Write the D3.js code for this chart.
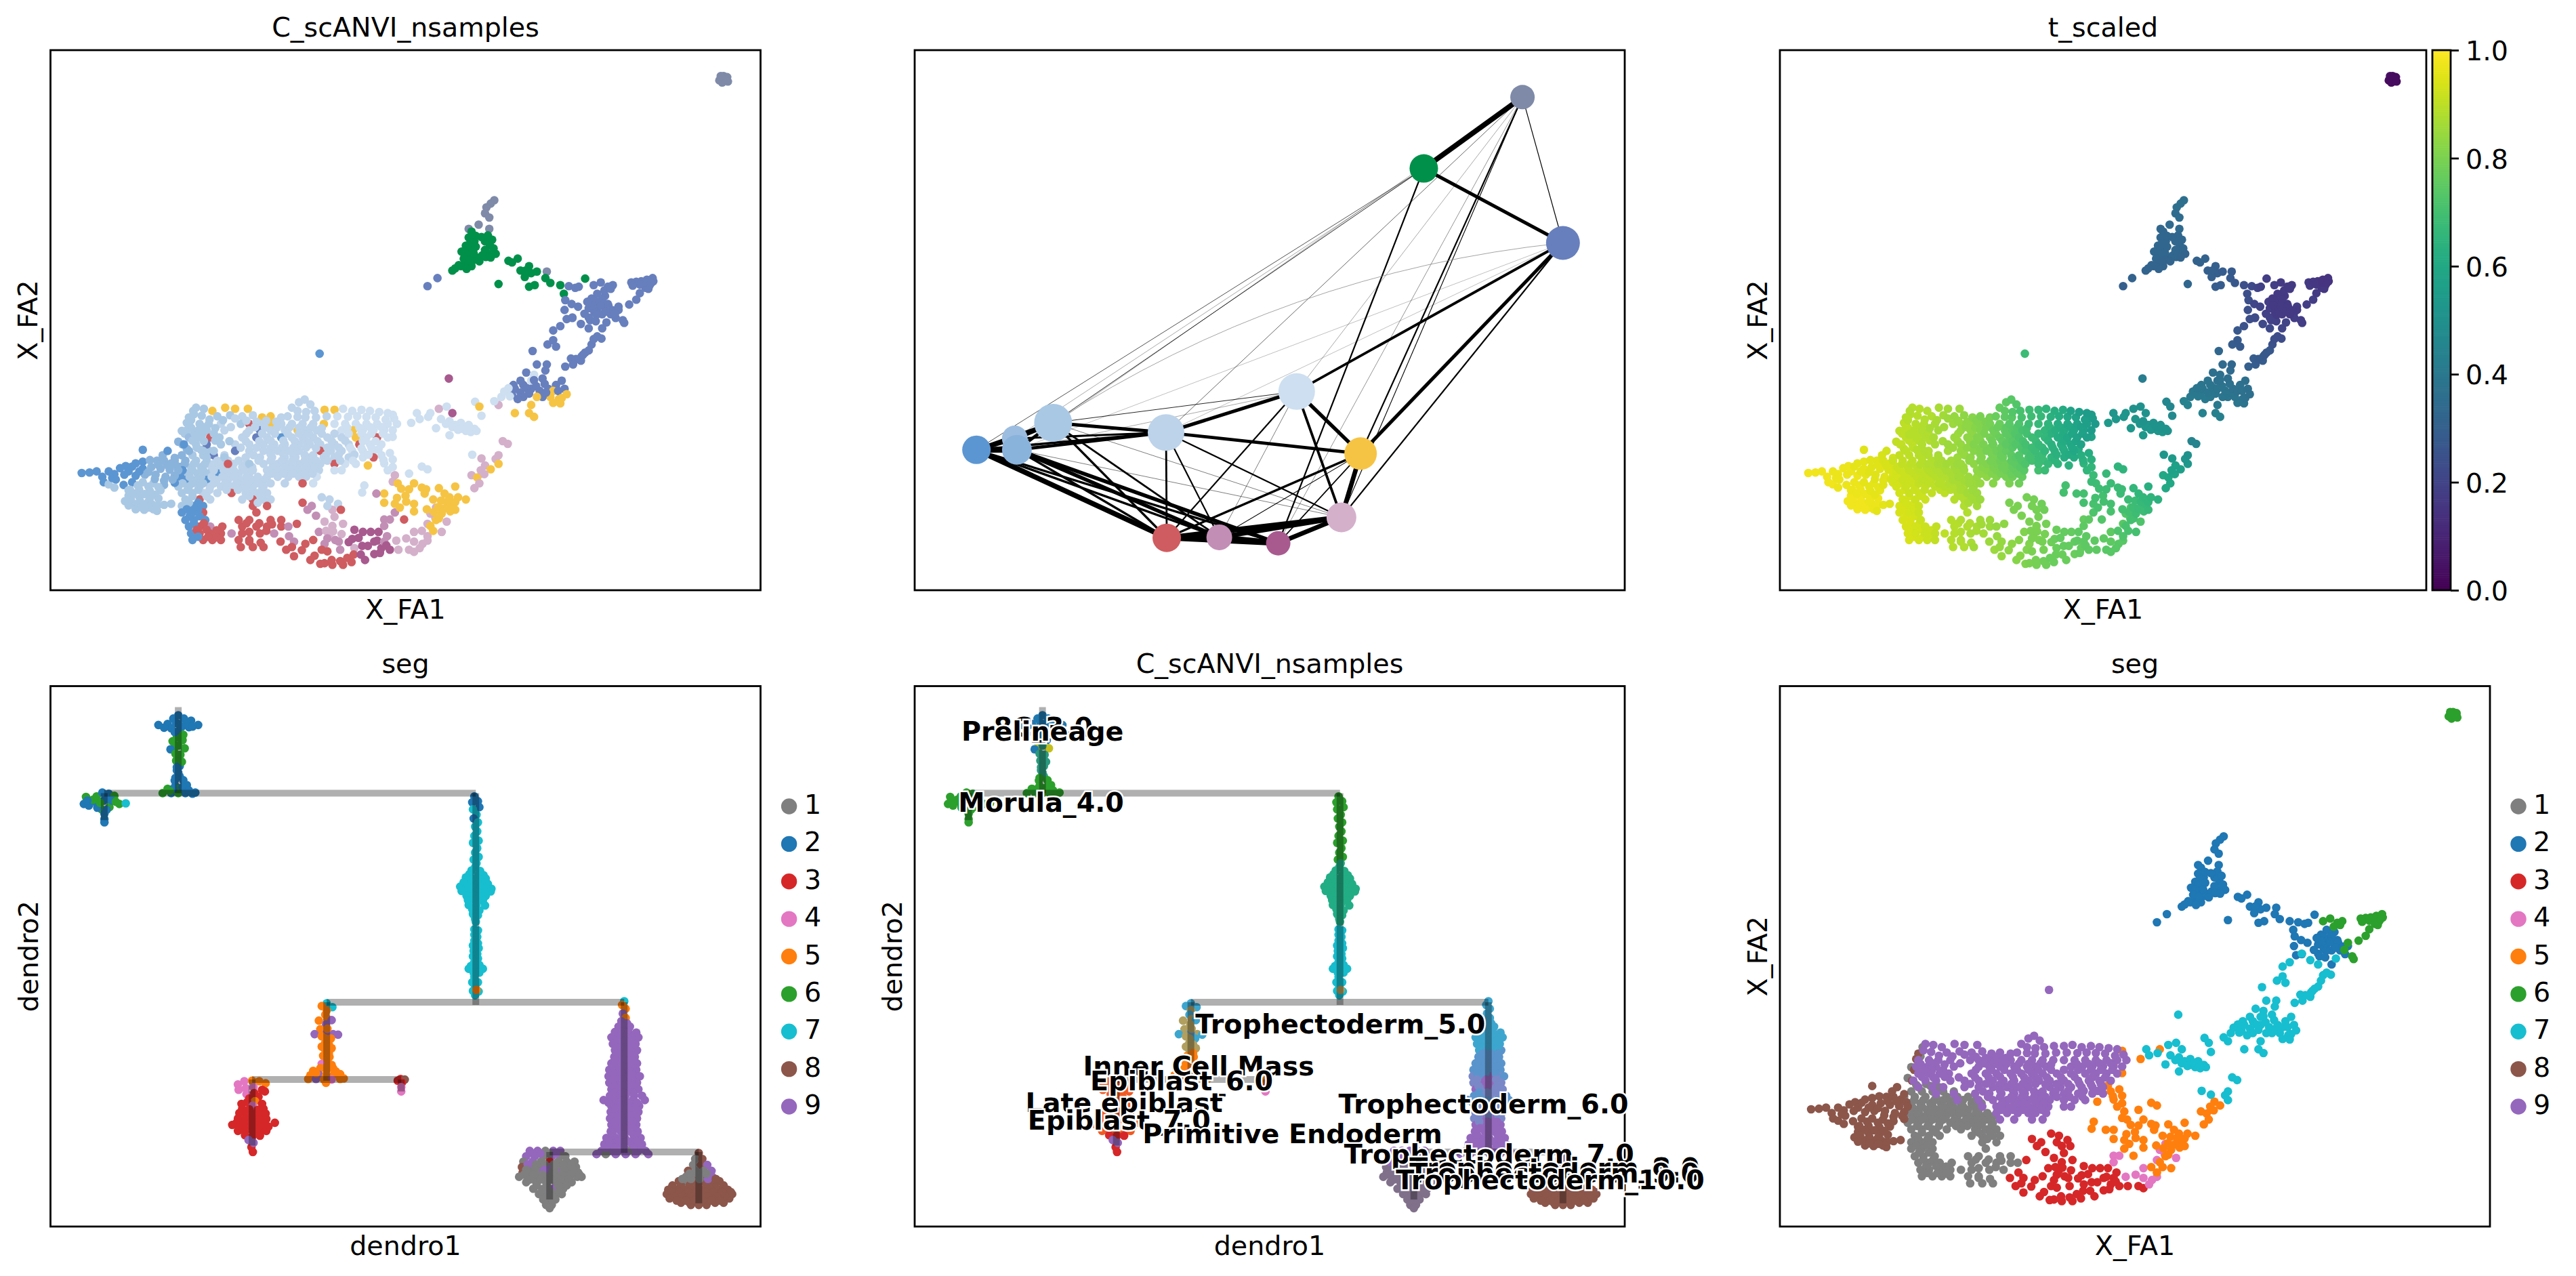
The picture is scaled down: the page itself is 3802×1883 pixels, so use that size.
<!DOCTYPE html>
<html>
<head>
<meta charset="utf-8">
<title>PAGA panels</title>
<script src="https://cdn.jsdelivr.net/npm/d3@7"></script>
<style>
  html, body { margin: 0; background: #fff; }
  svg { display: block; }
  text { font-family: "DejaVu Sans", sans-serif; fill: #000; }
</style>
</head>
<body>
<svg id="fig" width="3802" height="1883"></svg>
<script>
// embedding cells, one list per seg: [X_FA1, X_FA2, t_scaled, annotation index]
const seg1Cells = [
  [20.1,33.2,.88,6],[19.8,31.5,.89,6],[18.5,29.5,.9,6],[20,28.8,.89,5],[18,27.5,.91,8],[21.2,26,.89,6],[22.4,25.8,.88,6],
  [18.5,25,.91,8],[20,25,.9,6],[21.5,25,.89,6],[23,25,.88,2],[24.5,25,.87,5],
  [17.5,24,.92,8],[19,24,.91,8],[20.5,24,.9,6],[22,24,.89,6],[23.5,24,.88,5],[25,24,.87,5],[26.5,24,.86,5],
  [18.2,22.8,.92,9],[19.8,22.8,.91,6],[21.2,22.8,.9,6],[22.7,22.8,.89,5],[24,22.8,.88,5],[25.5,22.8,.87,5],[27,22.8,.86,5],[28.4,22.8,.85,5],
  [18,21.6,.93,9],[19.3,21.6,.92,6],[20.7,21.6,.91,6],[22.2,21.6,.9,6],[23.6,21.6,.89,9],[25,21.6,.88,5],[26.5,21.6,.87,5],[28,21.6,.86,5],
  [17.5,20.4,.93,6],[19,20.4,.92,9],[20.5,20.4,.92,6],[22,20.4,.9,9],[23.4,20.4,.9,5],[25,20.4,.89,5],[26.8,20.4,.87,5],[28.5,20.4,.86,5],[30,20.4,.85,5],
  [18,19.2,.93,6],[19.5,19.2,.92,6],[21,19.2,.92,6],[22.5,19.2,.91,5],[24,19.2,.9,5],[25.5,19.2,.89,5],[27,19.2,.88,5],[28.5,19.2,.87,5],[30,19.2,.85,5],
  [18.5,18,.93,6],[20,18,.92,6],[21.5,18,.92,5],[23.5,18,.91,5],[25.5,18,.9,10],[27.5,18,.88,5],[29,18,.86,5],[30.5,18,.85,5],
  [19,16.8,.93,6],[21,16.8,.92,10],[22.5,16.8,.92,5],[27,16.8,.89,5],[28.5,16.8,.88,10],[30,16.8,.86,5],[31,16.8,.85,5],
  [18.5,15.6,.94,6],[20,15.6,.93,9],[21.5,15.6,.92,9],[28.5,15.6,.88,10],[30.5,15.6,.86,10],
  [18.5,14.4,.94,9],[20,14.4,.93,9],[21.5,14.4,.92,10],[29,14.4,.88,10],
  [19,13,.94,9],[20.2,13,.94,9],[21.8,13,.92,9],[26.5,13,.89,10],[28,13,.88,10],[31,13,.86,10],[32.5,13,.85,10],
  [19.5,11.8,.94,9],[21,11.8,.93,10],[22.5,11.8,.92,11],[24.2,11.8,.91,10],[27,11.8,.89,10],[29,11.8,.88,10],[30.5,11.8,.87,10],[32.5,11.8,.85,10],[33.5,11.8,.84,11],
  [19.8,10.5,.94,9],[21,10.5,.93,10],[22.5,10.5,.92,10],[24,10.5,.91,10],[25.5,10.5,.9,11],[27,10.5,.89,10],[29.5,10.5,.87,10],[31.5,10.5,.86,11],
  [20,9.3,.94,9],[21.5,9.3,.93,10],[22.8,9.3,.92,10],[24,9.3,.91,10],[26.5,9.3,.89,10],[28,9.3,.88,10],
  [26.8,8,.89,10],[28.5,8,.88,10],[30,8,.86,10],
  [19.2,26.2,.9,8],[20.6,26.4,.9,6],[18.9,23.4,.91,8],[20.2,23.4,.9,6],[21.7,23.3,.89,6],[23,23.4,.88,5],[24.5,23.4,.87,5],[25.8,23.4,.86,5],[27.5,23.3,.85,5],[18.6,22.2,.92,9],[20,22.2,.91,6],[21.5,22.2,.9,6],
  [23,22.2,.89,5],[24.4,22.2,.88,5],[25.8,22.2,.87,5],[27.4,22.2,.86,5],[18.3,21,.93,9],[19.6,21,.92,6],[21.2,21,.91,6],[22.7,21,.9,5],[24.2,21,.89,5],[25.8,21,.88,5],[27.6,21,.86,5],[29.2,21,.85,5],
  [18.6,19.8,.93,6],[20,19.8,.92,6],[21.5,19.8,.91,6],[23,19.8,.9,5],[24.6,19.8,.89,5],[26.2,19.8,.88,5],[27.8,19.8,.87,5],[29.3,19.8,.85,5],[19.3,18.6,.93,6],[20.8,18.6,.92,6],[22.4,18.6,.91,5],[24.8,18.6,.9,5],
  [26.4,18.6,.89,5],[28,18.6,.87,5],[29.8,18.6,.85,5],[20,17.4,.93,6],[22,17.4,.92,5],[28,17.4,.88,5],[29.6,17.4,.86,5],[19.5,16.2,.93,6],[20.8,16.2,.93,9],[29.2,16.2,.87,5],[19.2,15,.94,9],[20.8,15,.93,9],
  [19.6,13.7,.94,9],[21,13.7,.93,9],[20.2,12.4,.94,9],[21.6,12.4,.93,10],[20.6,11.2,.94,10],[22,11.2,.93,10],[23.4,11.1,.92,10],[20.8,9.9,.94,9],[22.2,9.9,.93,10],[23.4,9.8,.92,10],
  [27.6,12.4,.89,10],[29.4,12.4,.88,10],[31.2,12.2,.86,10],[28,10.8,.88,10],[30.4,11,.87,10],[28,9,.88,10],[29.6,8.8,.87,10]
];
const seg2Cells = [
  [62.5,72.2,.36,0],[62,71.6,.36,0],[61.4,70.9,.36,0],[61.2,69.8,.35,0],[61.8,69,.35,0],[60.3,67.7,.34,0],[61.8,66.9,.34,0],[58.9,66.9,.33,0],
  [59.3,66.4,.33,1],[58.9,65.3,.33,1],[59.7,64.6,.33,1],[58.5,63.8,.33,1],[59.3,63,.33,1],[57.9,62.7,.33,1],[58.9,62,.33,1],[59.7,61.2,.32,1],
  [58.5,60.4,.32,1],[57.8,60,.32,1],[59.3,60,.32,1],[60,61.6,.33,1],[60.8,62,.33,1],[61.6,62.3,.33,1],[62.7,62.3,.32,1],[61.9,63.8,.33,1],
  [61.2,64.6,.33,1],[61.6,65.7,.33,1],[62.2,64.9,.33,1],[61.2,63,.33,1],[57.5,60.2,.32,1],[56.6,59.2,.32,1],[54.5,57.8,.31,2],[53.1,56.3,.3,2],
  [64.5,61,.31,1],[65.8,61.4,.31,1],[65,60.7,.31,1],[66.2,59.2,.3,1],[67.4,60,.3,1],[67.7,58.7,.3,1],[68.5,59,.29,1],[66.8,58,.3,1],[69.9,59,.28,0],
  [68.2,56.5,.29,1],[67.4,56.2,.29,1],[69.7,57.8,.28,1],[70.4,56.9,.27,1],[63.1,56.7,.33,1],[71.8,56.5,.24,1],[73,56.3,.22,2],[73.9,56,.2,2],[75.3,57.7,.18,1],
  [72.3,54.9,.24,1],[72.5,53.7,.24,2],[77,54.9,.17,2],[78.1,54.5,.17,2],[76.2,54,.17,2],[77.3,53.4,.17,2],[78.5,53,.17,2],[75.8,52.2,.18,2],[77,52.2,.17,2],
  [78.1,52.2,.17,2],[76.6,51.5,.17,2],[74.3,52.5,.2,2],[72.4,51.9,.24,2],[72.7,50.2,.24,2],[73.5,50.4,.23,2],[75.8,50.5,.19,2],[77.7,51.1,.17,2],[78.9,51.1,.17,2],
  [80,51.9,.17,2],[79.6,50.4,.18,2],[77.7,48.5,.2,2],[76,50,.19,2],
  [59.9,65.6,.33,1],[59.1,64.2,.33,1],[58.9,63.2,.33,1],[59.9,63.6,.33,1],[58.5,62.4,.33,1],[59.6,62.4,.33,1],[58.2,61.4,.33,1],[59,61,.32,1],[60.4,60.9,.32,1],[61.3,61.7,.33,1],[62,61.6,.32,1],[62.4,63.3,.33,1],
  [60.7,65.4,.33,1],[57,59.6,.32,1],[58.6,59.5,.32,1],[66.9,59.2,.3,1],[76.6,53.6,.17,2],[77.7,53.8,.17,2],[76.3,52.8,.17,2],[77.5,52.7,.17,2],[78.6,52.6,.17,2],[76.9,51,.17,2],[78.3,51.6,.17,2],[79.3,51.8,.17,2],
  [75.6,53.4,.18,2],[75.2,51.2,.19,2],[76.8,49.8,.19,2],[74.4,56.2,.19,2],[73.4,53,.21,2]
];
const seg3Cells = [
  [35.5,16.2,.8,10],[36.8,15.6,.8,11],[38.2,17.2,.79,5],[39.3,16.8,.79,5],[40.5,16,.78,5],[39.7,14.9,.79,13],[40.9,14.9,.78,10],[37.4,13.8,.8,11],
  [38.6,12.7,.8,13],[39.7,11.9,.8,13],[41.2,12.3,.79,13],[37.8,10.8,.81,11],[39.3,10.4,.8,13],[40.1,9.3,.8,11],[38.6,8.6,.81,11],[37,9.3,.82,10],
  [35.9,8.6,.83,10],[34.3,9,.84,11],[33.6,10,.84,11],[34.7,12.3,.83,10],[32.4,9,.85,10],[33.2,7.5,.85,10],[34.3,6.3,.84,10],[36.6,5.6,.82,10],
  [38.2,7.5,.81,10],[38.6,5,.8,10],[39.7,4.7,.79,10],[41.2,4.7,.78,10],[42.4,5.2,.77,10],[40.8,7.5,.79,11],[42.8,7.8,.77,13],[43.9,8.2,.76,12],
  [45.1,10.8,.76,12],[46.2,10.8,.75,12],[47.4,10,.75,11],[45.6,9,.76,12],[46.6,7.8,.76,12],[45.6,6.7,.77,12],[44.3,5.6,.77,12],[47.8,7.5,.75,12],
  [49,7.5,.75,13],[50.5,7.5,.74,13],[51.2,7.1,.74,13],[42.8,11.2,.77,12],[36.2,14.9,.8,11],[42.5,9.5,.77,12],
  [38.8,11,.8,13],[39,9.6,.8,11],[39.8,10.9,.8,13],[41,10.4,.79,13],[40.6,9,.79,11],[42,8.9,.78,12],[43.4,9.7,.76,12],[44,10.8,.76,12],[44.7,8.2,.76,12],[46,9.2,.75,12],[47,9,.75,11],[47.3,8.3,.75,12],[46.4,6.9,.76,12],
  [38,4.9,.81,10],[39.6,5.6,.79,10],[40.8,5.4,.78,10],[41.8,6,.77,10],[37.2,6.4,.82,10],[35.4,7.4,.83,10],[34,8,.84,10],[39,7.2,.8,10],[42.7,6.6,.77,10],[43.7,6.6,.77,12],[40,13.6,.79,13],[39,15.6,.79,5]
];
const seg4Cells = [
  [47,13.1,.76,11],[54.3,15.3,.72,13],[53.5,14.2,.73,13],[54.2,13.4,.73,13],[55.8,12.7,.72,13],[53.1,12.3,.74,13],[51.2,10.8,.75,13],[50.1,9.6,.75,13],
  [51.2,9,.75,13],[52.4,8.6,.74,13],[53.1,9.2,.74,13],[52,7.8,.74,13],[48.7,9.2,.75,13],[47,11.9,.75,11],[47.8,13.1,.75,11]
];
const seg5Cells = [
  [61.2,23.1,.57,13],[62,22.4,.56,4],[60.8,21.6,.58,13],[59.3,21.3,.6,13],[60.1,20.9,.59,4],[60.4,19.8,.6,13],[59.7,18.9,.6,13],
  [57,19.2,.63,4],[54.7,18.9,.66,4],[55.5,17.9,.66,4],[56.2,17.2,.66,4],[57.4,17.2,.65,4],[58.5,16.8,.64,4],[56.6,16,.67,4],[55.8,15.3,.68,4],
  [57,14.9,.67,4],[55.1,14.2,.69,4],[54.3,13,.7,4],[53.5,11.9,.71,4],[55.1,10.8,.7,13],[53.1,10,.72,13],[52.3,11,.72,13],[53.9,16.8,.68,4],
  [52.7,17.9,.68,4],[52.3,19,.68,4],[53.1,22.4,.65,3],[52.3,22.9,.65,3],[50.5,21.6,.67,3],[51.2,19.8,.68,4],[50.5,18.7,.69,4],[49.4,18.8,.69,4],
  [48.5,21.3,.68,13],[48.2,22.8,.66,3],[47,23.5,.65,3],[46.6,25,.63,3],[47.8,25.4,.62,3],[46.2,26.1,.62,3],[48.2,20.1,.68,13],[48.9,19.8,.69,4],
  [47,17.9,.7,4],[45.9,17.9,.7,11],[44.2,19.4,.7,3],[43.9,18.1,.7,3],[47,16.2,.7,4],[48.5,16,.71,4],[50.1,16.4,.7,4],[51.2,16,.7,4],[48.5,14.4,.72,11],
  [49.8,13.1,.73,10],[51.2,14.6,.71,4],[47,30.2,.57,3],[48.2,28.4,.58,3],[48.2,32.5,.55,3],[50.8,31,.54,3],[53.5,32.8,.52,3],[44.7,23.1,.64,4],
  [55,16.6,.68,4],[55.9,16.4,.67,4],[57,16.3,.66,4],[54.6,15.4,.69,4],[55.4,15.1,.68,4],[56.3,14.6,.68,4],[54.7,13.3,.7,4],[54,14.5,.7,4],[53,15,.7,4],[53.9,11,.71,4],[52.9,18.7,.68,4],
  [48.2,24.2,.64,3],[46.9,24.1,.64,3],[47.5,22.2,.66,3],[48.8,17.1,.7,4],[49.2,15.3,.71,4],[50,17.5,.7,4],[60.6,22.2,.57,13],[61.1,21.5,.58,13]
];
const seg6Cells = [
  [94.2,94.4,.03,0],[94.8,95.2,.03,0],[95.1,94.5,.03,0],[94.6,94,.03,0],[95.3,95,.03,0],[94.9,94.7,.03,0],[94.4,95.2,.04,0],[95.4,94.2,.03,0],
  [84.8,57.8,.15,2],[84.4,57.3,.15,2],[84.9,57.2,.15,2],[84,57.5,.15,2],[83.5,56.9,.16,2],[84.4,56.5,.16,2],[83.2,57.2,.16,2],[82.5,57.1,.16,2],[81.8,57,.17,2],
  [83.8,56,.16,2],[84.2,55.8,.16,2],[83,55,.17,2],[82.5,53.8,.18,2],[81.5,52.9,.18,2],[79.2,56.5,.17,2],[78.5,56.2,.17,2],[77.5,57,.17,2],[78,55.5,.17,2],
  [76.5,56.5,.18,2],[80,52.5,.18,2],[79.5,51.2,.18,2],[80.6,50,.18,2],[80.8,49.5,.18,2],
  [83.9,57,.15,2],[83,56.6,.16,2],[82,56.4,.17,2],[84.6,56.9,.15,2],[78.9,55.8,.17,2]
];
const seg7Cells = [
  [70.8,48.1,.27,2],[71.8,48.9,.25,2],[73.5,50.5,.23,2],[74.7,49.3,.22,2],[75.8,48.5,.22,2],[78.3,49.6,.2,2],[77,47,.23,2],[76.2,45.5,.25,2],[77.6,46.6,.23,2],
  [75.3,44,.27,2],[74.7,42.5,.29,2],[75.8,44.4,.27,2],[74.8,43.3,.28,2],[73.3,42.9,.29,2],[72.5,41.4,.3,2],[71.2,45.1,.28,2],[70,45.5,.29,2],[70.8,46.3,.28,2],
  [67.9,44.3,.33,2],[69.9,41.8,.33,2],[68.5,41.8,.34,2],[69.7,40.7,.34,2],
  [67,40.3,.36,2],[68.1,39.9,.36,3],[69.3,39.2,.36,2],[67.7,38.8,.37,3],[66.6,38,.38,2],[65.4,37.3,.39,2],[64.3,36.9,.4,3],[63.5,35.8,.41,3],[65,36.2,.4,2],[66.2,36.6,.39,2],
  [67.7,37.3,.38,2],[68.9,36.9,.38,2],[70.1,37.3,.37,2],[71.2,38,.37,2],[72,38.8,.36,2],[72.4,37.3,.36,2],[72.7,36.3,.36,4],[71.6,35.4,.38,4],[70.4,35.8,.38,4],[70.8,34.7,.39,4],
  [67.7,34.3,.41,4],[69.3,35.8,.39,2],[68.5,35.8,.39,4],[66.6,35.8,.4,2],[63.1,34.3,.44,13],[62.5,35,.44,3],[65.4,32.8,.44,4],[67.4,32.8,.43,4],[68.1,32.1,.43,4],
  [59.8,34.9,.46,3],[60.4,34,.46,4],[60.7,32.3,.47,3],[56.1,39.2,.42,12],
  [51.6,32.8,.52,3],[52,31.7,.53,3],[53.2,32.1,.52,3],[54.7,33.6,.5,13],[55.8,34,.5,3],[56.6,32.8,.5,12],[55,31.7,.52,3],[56.2,31.3,.51,3],[54.3,30,.53,3],
  [57,30.6,.52,3],[57.8,31,.51,3],[58.9,30.6,.51,3],[59.7,29.9,.51,3],[58.5,29.5,.52,3],[57.8,29.9,.52,3],[56.2,28.7,.53,3],[60,29.5,.51,3],
  [63.7,27.6,.45,13],[64.4,27.1,.45,13],[59.4,25.1,.53,3],[60.7,24.4,.54,13],[63.1,25,.5,13],[62.7,24.3,.52,13],[63.1,23.4,.53,4],
  [66.2,38.8,.38,2],[65.2,38,.39,2],[64.5,37.4,.39,3],[63.9,36.8,.4,3],[64.7,35.9,.41,3],[65.8,35.4,.41,2],[67.1,37.4,.39,2],[68.4,37.8,.38,2],[69.6,38.2,.37,2],[70.8,36.9,.37,4],[71.5,36.9,.37,2],[69.8,36.6,.38,2],[68.1,38.9,.37,2],
  [67.4,36.4,.39,2],[71.8,34.6,.38,4],[72,35.6,.37,4],[55.7,30.8,.52,3],[56.6,30.2,.52,3],[57.4,29.7,.52,3],[58.2,30.3,.51,3],[59.2,29.3,.52,3],[59,30,.51,3],[76.5,46.5,.24,2],[75,43.6,.27,2],[74,42.8,.28,2],[73.6,41.8,.29,2]
];
const seg8Cells = [
  [4.4,21.7,.98,9],[5.5,21.8,.98,9],[6.5,22,.98,9],[7.3,21,.98,9],[8.2,22,.97,9],[9,21.5,.97,9],[9.8,22.6,.97,9],[9.2,20.5,.97,9],[10.3,19.5,.97,9],[11,18.5,.97,6],
  [7.5,20,.98,9],[8.2,19.6,.98,6],[9,19,.97,6],[13,26,.95,9],[10.6,23,.97,9],[11.5,22.9,.96,9],[12,23.5,.96,9],[13,23.8,.96,9],[14,24.1,.95,8],[15,24,.95,8],[16,24,.94,8],
  [17,23.5,.94,8],[17.8,23,.93,8],[13,22.5,.96,9],[14.2,22.8,.95,8],[15.5,22.5,.95,8],[16.8,22.3,.94,8],[18,22.2,.93,8],[12,21.2,.97,9],[13.3,21.4,.96,8],[14.8,21.4,.95,8],
  [16.2,21,.95,8],[17.5,21.2,.94,8],[11.5,20,.97,9],[13,20,.96,6],[14.5,19.8,.96,6],[16,19.5,.95,8],[17.5,19.9,.94,9],[11.2,18.6,.97,6],[12.5,18.6,.97,6],[14,18.4,.96,6],[15.5,18.5,.96,6],
  [11,17.5,.98,6],[12.5,17.3,.98,6],[14,17,.97,6],[15.2,17,.97,6],[10.5,16.5,.98,6],[11.8,16,.98,6],[13,15.9,.98,6],[14.3,15.9,.97,6],[12,15,.98,6],[13.2,14.9,.98,6],[14.5,15,.97,6],
  [16,15.8,.96,6],[17,16,.95,6],[15,14.7,.96,6],[15.8,25,.94,8],[16.5,25.8,.93,9],[17.5,24.5,.93,8],[18.6,27,.92,8],[18.9,29,.91,6],[19.2,31,.9,6],[19.5,32,.89,6],
  [8.7,20.8,.97,9],[10.4,21.4,.97,9],[11,22,.97,9],[12.5,22,.96,9],[13.8,21.9,.95,8],[15.2,23.2,.95,8],[16.4,23.2,.94,8],[14.7,20.6,.95,8],[16,20.3,.95,8],[17.2,20.5,.94,8],[12.3,19.4,.97,6],[13.8,19.2,.96,6],
  [15.2,19.1,.96,6],[11.9,17.9,.97,6],[13.3,17.8,.97,6],[14.7,17.7,.96,6],[11.3,16.9,.98,6],[12.6,16.6,.98,6],[13.8,16.4,.97,6],[11,15.7,.98,6],[12.6,15.4,.98,6],[13.9,15.3,.98,6],[15.1,15.7,.97,6]
];
const seg9Cells = [
  [37.9,43.8,.68,9],
  [20.5,33.8,.89,6],[21.6,33.6,.89,6],[22.8,33.2,.88,4],[24.6,33.8,.87,4],[26,33.6,.86,4],[27.8,33.6,.85,4],[23.5,32.2,.88,6],[25.3,32.4,.86,6],[27,32.2,.84,5],[28.5,32.4,.83,5],[29.8,32,.82,4],[31,32.2,.8,4],[32.5,32,.79,5],
  [34,33.8,.76,5],[35,34.8,.75,5],[35.8,35.3,.74,5],[36.6,34.4,.73,5],[34.8,33.2,.75,5],[36,33,.73,5],[37.2,33.2,.71,5],[38.6,33.4,.69,4],[40,33.4,.67,4],[41.2,33.6,.65,3],[42.5,33.2,.63,3],[43.8,33.4,.61,3],[45,33.2,.58,3],[46.3,33,.56,3],[47.5,32.8,.55,3],
  [19.5,30.8,.9,6],[21,30.8,.89,6],[22.3,30.8,.88,6],[24,30.8,.87,5],[26.8,30.8,.85,6],[28,30.8,.84,10],[29.5,30.8,.83,5],[31,30.8,.81,4],[32.5,30.8,.79,5],[34,30.8,.77,5],[35.5,30.8,.74,5],[37,30.8,.72,5],[38.5,30.8,.69,4],[40,30.8,.67,3],[41.5,30.8,.65,3],[43,30.8,.62,3],[44.5,30.8,.6,3],[46,30.8,.58,3],[47.5,30.8,.56,3],[48.8,30.8,.54,3],
  [19.2,29.6,.9,6],[20.8,29.6,.89,6],[22,29.6,.88,6],[24.5,29.6,.86,5],[28,29.6,.84,5],[29.5,29.6,.83,2],[31,29.6,.81,5],[33,29.6,.78,5],[34.8,29.6,.76,4],[36,29.6,.74,5],[37.5,29.6,.71,5],[41,29.6,.66,3],[42.6,29.6,.63,4],[44,29.6,.61,3],[45.5,29.6,.59,3],[47,29.6,.57,3],[48.2,29.6,.55,3],
  [19.5,28.3,.9,7],[21,28.3,.89,6],[22.5,28.3,.88,10],[23.8,28.3,.87,6],[27,28.3,.85,5],[29,28.3,.83,2],[30.5,28.3,.81,5],[32.5,28.3,.79,9],[34,28.3,.77,5],[35.5,28.3,.75,5],[37,28.3,.72,5],[39,28.3,.69,5],[41,28.3,.66,5],[43,28.3,.62,4],[44.5,28.3,.6,3],[46,28.3,.58,10],[47.5,28.3,.56,3],
  [18.8,27,.91,9],[20.5,27,.9,6],[22,27,.88,2],[24,27,.87,6],[26,27,.85,5],[28,27,.84,5],[30,27,.81,5],[31.5,27,.8,5],[33,27,.78,5],[35,27,.75,5],[36.5,27,.73,5],[38,27,.7,5],[40,27,.67,5],[42,27,.64,5],[43.5,27,.62,10],[45,27,.6,3],[46.6,27,.58,3],
  [19.5,25.8,.9,8],[21.5,25.8,.89,6],[23,25.8,.88,6],[26,25.8,.86,2],[28,25.8,.84,5],[30,25.8,.82,5],[32,25.8,.79,5],[33.5,25.8,.78,5],[35,25.8,.76,5],[38,25.8,.71,10],[39.5,25.8,.68,5],[41,25.8,.66,5],[42.5,25.8,.64,3],[44,25.8,.62,3],[45.5,25.8,.6,3],
  [22,24.6,.89,6],[24.5,24.6,.87,6],[27.5,24.6,.85,5],[29.5,24.6,.83,5],[31.2,24.6,.81,5],[33,24.6,.79,5],[34.5,24.6,.77,5],[36.5,24.6,.74,5],[38.5,24.6,.71,5],[40,24.6,.68,5],[42,24.6,.65,5],[44,24.6,.62,3],[45.5,24.6,.61,10],
  [25,23.4,.87,10],[28,23.4,.85,6],[30,23.4,.83,5],[32,23.4,.81,5],[33.6,23.4,.79,5],[35,23.4,.78,5],[36.5,23.4,.75,5],[38,23.4,.72,5],[40,23.4,.69,10],[41.5,23.4,.67,3],[43,23.4,.65,3],
  [28.5,22.2,.85,5],[30.5,22.2,.83,5],[32,22.2,.82,5],[33.5,22.2,.8,5],[35,22.2,.78,5],[36.5,22.2,.76,5],[37.8,22.2,.74,5],[40,22.2,.7,3],[41,22.2,.68,3],
  [30.5,21,.84,5],[32,21,.83,5],[33.5,21,.81,5],[35,21,.79,5],[36,21,.78,5],[37.5,21,.76,3],
  [31,19.8,.84,5],[33,19.8,.82,5],[35.5,19.8,.8,10],[37,19.8,.78,3],
  [20.2,32.6,.89,6],[21.3,32.3,.89,6],[22.4,31.6,.88,6],[24.3,31.5,.87,6],[26,31.8,.85,5],[27.6,31.4,.84,5],[29,31.2,.83,5],[30.4,31.4,.81,5],[31.8,31.2,.8,5],[33.4,32.2,.77,5],[34.8,32.1,.75,5],[35.9,32,.74,5],[37.4,32,.71,5],[38.9,32.2,.69,5],[40.4,32.2,.67,3],[41.9,32.1,.64,3],[43.2,32.2,.62,3],[44.5,32.1,.6,3],[45.8,32,.58,3],[47.2,31.6,.56,3],[48.4,31.8,.55,3],
  [19.8,30.1,.9,6],[21.5,30.2,.89,6],[23.2,30,.87,6],[25.4,30.2,.86,5],[28.8,30.2,.83,5],[30.2,30.1,.82,5],[31.9,30.1,.8,5],[33.7,30.2,.77,5],[35,30.1,.75,5],[36.7,30.2,.73,5],[38.2,30,.7,5],[41.8,30.1,.65,3],[43.5,30.1,.62,3],[45,30.2,.6,3],[46.6,30.2,.57,3],
  [20.3,29,.89,6],[21.4,28.9,.89,6],[23,29,.88,6],[27.6,29,.85,5],[29.8,29,.83,5],[31.6,29,.8,5],[33.4,29,.78,5],[35,29,.75,5],[36.4,29,.73,5],[38.2,29,.7,5],[40,29,.67,5],[42,29,.64,3],[43.8,29,.61,3],[45.2,29,.59,3],[46.8,29,.57,3],
  [20,27.7,.9,6],[21.6,27.6,.89,6],[23.2,27.7,.88,6],[25.2,27.6,.86,6],[27.5,27.6,.85,5],[29.4,27.6,.83,5],[31,27.7,.81,5],[32.8,27.7,.78,5],[34.4,27.6,.76,5],[36,27.6,.74,5],[37.6,27.6,.71,5],[39.6,27.6,.68,5],[41.5,27.7,.65,5],[44,27.6,.61,3],[45.8,27.6,.59,3],
  [26.8,26.4,.85,5],[29,26.4,.83,5],[31,26.3,.81,5],[32.6,26.4,.79,5],[34.2,26.4,.77,5],[36,26.4,.74,5],[37.4,26.3,.72,5],[39,26.4,.69,5],[40.6,26.4,.67,5],[42.2,26.4,.64,3],[43.8,26.3,.62,3],[45.2,26.4,.6,3],
  [28.6,25,.84,5],[31,25.2,.81,5],[32.8,25.2,.79,5],[34.2,25,.77,5],[35.8,25,.75,5],[37,25,.73,5],[38.8,25,.7,5],[40.6,25.1,.68,5],[42.8,25.1,.64,5],[44.8,25.1,.61,3],
  [29.3,24,.83,5],[31,24,.81,5],[32.6,24,.79,5],[34.1,24,.78,5],[35.8,24,.75,5],[37.4,24,.73,5],[39,24,.7,5],[40.8,24,.68,5],[42.6,24,.65,3],
  [31.3,22.8,.82,5],[33,22.8,.8,5],[34.4,22.8,.78,5],[36,22.8,.76,5],[37.2,22.8,.74,5],[31.2,21.6,.83,5],[32.8,21.6,.81,5],[34.2,21.6,.79,5],[35.8,21.6,.77,5],[36.9,21.6,.76,5]
];

// annotation colours of the top-left panel and the graph nodes
const annotColors = ['#7e8aa8','#00904a','#677fbd','#cddff0','#f6c444','#bcd3ea','#a9c8e4','#9cbde0','#8ab3dc','#5c96d2','#cf5c60','#c28eb5','#a85a8f','#d4b0cb'];
const segLabels = ['1','2','3','4','5','6','7','8','9'];
const segColors = ['#7f7f7f','#1f77b4','#d62728','#e377c2','#ff7f0e','#2ca02c','#17becf','#8c564b','#9467bd'];

// abstracted graph: [x, y, cells] with node index = annotation index
const graphNodes = [
  [85.6,91.3,108],[71.7,78.1,147],[91.3,64.3,208],[53.8,36.8,243],[62.8,25.3,192],[35.4,29.2,243],[19.5,31,261],
  [14.1,28.1,120],[14.4,26,161],[8.7,26,147],[35.5,9.7,147],[42.9,9.8,120],[51.2,8.7,108],[60.1,13.5,161]
];
// [source, target, connectivity]
const graphEdges = [
  [0,1,.9],[0,2,.14],[1,2,.6],[0,4,.26],[0,13,.13],[0,5,.07],[0,3,.04],[0,8,.04],[0,12,.05],
  [1,9,.08],[1,6,.1],[1,7,.04],[1,12,.26],[2,3,.45],[2,4,.6],[2,13,.26],[2,5,.03],[2,8,.03],
  [3,5,.6],[3,4,.65],[3,13,.45],[3,6,.1],[3,10,.26],[3,11,.06],[3,8,.04],
  [4,5,.55],[4,13,.8],[4,10,.4],[4,11,.13],[4,12,.2],[5,6,.6],[5,7,.35],[5,8,.55],[5,9,.4],[5,10,.33],[5,11,.26],[5,13,.26],
  [6,7,.8],[6,9,.65],[6,8,.55],[6,10,.4],[6,11,.33],[6,13,.06],[7,8,.6],[8,9,1],[7,9,.8],
  [9,10,.9],[9,11,.4],[9,12,.4],[8,10,.4],[8,11,.65],[8,12,.65],[8,13,.06],
  [10,11,1],[10,12,.9],[10,13,.9],[11,12,1],[11,13,.8],[12,13,.8]
];
// the one bent edge of the graph: [source, target, connectivity, bend]
const graphArcs = [[2,6,.09,.12]];

// dendrogram layout branches: [x1, y1, x2, y2]
const dendroLinks = [
  [7.57,80.2,59.9,80.2],[59.9,41.5,38.9,41.5],[59.9,41.5,80.8,41.5],[38.9,27.2,28.4,27.2],[38.9,27.2,49.4,27.2],[80.8,13.8,70.3,13.8],[80.8,13.8,91.3,13.8],
  [7.57,80.2,7.57,75.2],[18,80.2,18,96.1],[59.9,80.2,59.9,41],[38.9,41.5,38.9,27],[80.8,41.5,80.8,13.6],[28.4,27.2,28.4,15],[49.4,27.2,49.4,25],[70.3,13.8,70.3,5],[91.3,13.8,91.3,4.3]
];
// dendrogram cells per branch: [dendro1, dendro2, seg index, annotation tint]
const dendroTints = ['#1f78ae','#c4bf1e','#2a9a7e','#2ca02c','#22ad85','#17bccd','#3da6cf','#b09f5f','#ff7f0e','#f15a24','#d62728','#e377c2','#9467bd','#5a94cc','#7a88c8','#80708a','#8c564b'];
const branchMorula = [
  [5,79.5,5,3],[4.7,78.2,1,3],[5.9,78.7,1,3],[6.5,79.6,5,3],[7.3,80.3,1,3],[8.2,80.1,1,3],[9,79.7,5,3],[8.5,78.7,1,3],[7.5,78.8,1,3],[6.6,78,1,3],[5.4,77.9,1,3],
  [9.7,78.2,5,3],[10.6,78.3,6,3],[8.3,77.6,5,3],[7.2,77.2,5,3],[7.6,76.4,1,3],[7.6,75.4,1,3],[7.6,74.8,1,3],[6.6,77.5,1,3],[8.7,78.8,1,3],[7.9,77.1,1,3],
  [6,79,5,3],[7.9,79.4,1,3],[5.2,78.8,1,3],[9.2,78.6,5,3],[7,78.4,5,3]
];
const branchTop = [
  [16.5,93,1,0],[15.2,92.8,1,0],[17.3,94,1,0],[18,94.6,1,0],[18.8,94,1,0],[19.8,93.6,1,0],[20.8,92.8,1,0],[19.5,92.4,1,0],[18.5,92.5,1,0],[17,92.2,1,0],[18,91.6,1,0],
  [17.8,90.5,5,0],[18.6,90,5,0],[17.2,89.8,5,1],[17.5,88.7,5,1],[18.9,88.5,5,1],[16.9,88.3,1,0],[18.3,87.3,5,2],[17.7,86.2,5,2],[18.2,85.2,1,2],[17.8,84.4,1,2],[18.2,83.3,1,2],
  [17.5,82.5,1,3],[18.7,82.6,1,3],[17.6,81.5,1,3],[19.2,81.7,1,3],[16.5,81,5,3],[15.8,80.2,5,3],[17,80.2,1,3],[18,80.2,5,3],[19,80.2,1,3],[20,80.1,1,3],[20.4,80.3,1,3],[18.1,81,5,3],
  [16,92.3,1,0],[17.7,93.2,1,0],[19.2,93,1,0],[20,92.5,1,0],[18,93,1,0],[17.5,91.5,1,0],[18.7,91,5,0],[18,89,5,2],[17.6,87.5,5,2],[18.5,86,5,2],[17.8,85,1,2],[18,84,1,2],[17.6,83,1,3],[18.6,81.3,1,3],[17.3,81,1,3],[16.8,80.6,5,3],[19.5,80.7,1,3]
];
const branchMid = [
  [59.7,79.6,1,3],[60.2,78.7,1,3],[59.4,78.5,1,3],[60.4,77.6,1,3],[59.5,77.2,6,3],[60,76.2,6,3],[59.6,75.5,1,3],[60.2,74.8,6,3],[59.8,74,6,3],[60.1,73.1,6,3],[59.7,72.3,6,3],
  [60.3,71.4,6,3],[59.5,71,6,3],[60.1,70,6,3],[59.8,69.2,6,3],[60.3,68.4,6,3],[59.6,67.9,6,3],[60,67.2,6,4],[59.8,66.5,6,4],[59.3,65.9,6,4],[60.5,65.8,6,4],[59,65.2,6,4],
  [60.2,65,6,4],[61,65,6,4],[58.5,64.6,6,4],[59.5,64.3,6,4],[60.6,64.2,6,4],[61.3,64.4,6,4],[58.2,63.7,6,4],[59.2,63.6,6,4],[60.2,63.4,6,4],[61.2,63.6,6,4],[61.6,63.4,6,4],
  [57.7,62.9,6,4],[58.7,62.9,6,4],[59.6,62.9,6,4],[60.6,62.8,6,4],[61.5,62.9,6,4],[62.1,62.5,6,4],[57.9,62.1,6,4],[58.9,62,6,4],[60,62,6,4],[61.1,62,6,4],[62,62,6,4],
  [58.6,61.2,6,4],[59.6,61.3,6,4],[60.4,61,6,4],[61.3,61.2,6,4],[58.8,60.4,6,4],[59.8,60.4,6,4],[60.9,60.3,6,4],[58.9,59.5,6,4],[60,59.6,6,4],[61.2,59.4,6,4],[59.4,58.7,6,4],
  [60.4,58.5,6,4],[59.5,57.8,6,4],[60.2,57.6,6,4],[59.8,56.9,6,4],[59.9,56.4,6,4],
  [59.7,55,6,5],[60.2,54.8,6,5],[59.7,54,6,5],[60.1,53.6,6,5],[59.7,52.9,6,5],[60.2,52.4,6,5],[59.5,52,6,5],[60.3,51.5,6,5],[59.6,51,6,5],[60.1,50.4,6,5],[59.5,50,6,5],[60.2,49.6,6,5],
  [59.7,48.9,6,5],[60.4,48.4,6,5],[59.2,48.2,6,5],[59.9,47.7,6,5],[58.9,47.7,6,5],[60.9,47.7,6,5],[59.6,47,6,5],[60.4,47,6,5],[59.7,46.2,6,5],[59.4,45.2,6,5],[60.2,45.2,6,5],
  [59.8,44.4,6,5],[59.5,43.6,6,5],[60.3,43.5,6,5],[59.8,42.8,6,5],[60,43.8,4,7]
];
const branchInner = [
  [38.9,41.3,6,6],[38.2,40.8,4,6],[39.7,40.6,6,6],[38.9,40,4,7],[38.7,39.2,4,6],[39,38.4,4,7],[37.8,38.1,4,7],[39.6,38.2,8,6],[38.8,37.4,8,7],[38,36.5,4,7],[37.2,35.6,8,6],
  [39.8,35.6,8,7],[40.5,35.5,8,6],[38.9,35.8,8,13],[38.2,35.2,4,7],[39.5,34.8,4,6],[38.7,34,4,7],[39.2,33.7,4,7],[38.2,33.3,4,7],[39.6,33,4,7],[38.8,32.3,4,8],[38.4,31.6,4,8],
  [39.3,31.4,4,8],[38.9,30.5,3,8],[38.2,30.1,3,8],[39.6,29.9,4,8],[38,29.3,4,8],[39.8,29.3,4,8],[38.9,29,4,11],[37,28.8,4,8],[36.6,28,4,8],[37.8,28.1,8,8],[38.8,28,4,8],
  [39.9,28.1,4,8],[40.8,28.2,4,8],[36.3,27.3,4,8],[37.4,27.3,8,8],[38.5,27.2,4,8],[39.6,27.2,3,8],[40.8,27.3,4,8],[41.3,27.4,4,8],[38.8,26.6,4,8],
  [38.7,34.8,4,7],[39,36.6,4,7],[38.6,32.9,4,7],[39.2,32.1,4,8],[39,30.9,4,8],[38.9,29.6,4,8],[37.4,28.4,4,8],[40.2,28.7,4,8]
];
const branchEpi = [
  [26.4,26.3,3,9],[27.3,26.9,3,9],[28.4,27,4,9],[29.4,26.9,4,9],[30.3,26.5,4,9],[26.5,25.3,3,9],[27.5,25.6,3,9],[28.6,25.8,3,9],[29.8,25.3,2,9],[30.2,25,2,9],[27.6,24.5,3,9],[28.7,24.7,2,9],
  [29.3,24,2,9],[28,23.7,2,9],[28.8,23.2,4,9],[27.7,23,2,9],[26.9,22.7,2,9],[28.5,22.4,3,9],[29.8,22.7,2,9],[27,21.8,2,9],[28,21.7,2,9],[29.2,21.6,2,9],[30,21.8,2,9],[26.6,21,2,9],
  [27.6,20.8,2,9],[28.6,20.8,2,9],[29.6,20.8,2,9],[30.3,20.9,2,9],[26.4,20,2,9],[27.4,19.9,2,9],[28.4,20,2,9],[29.4,19.9,2,9],[30.4,19.9,2,9],[26.2,19.2,2,9],[27.2,19.1,2,9],[28.2,19.2,2,9],
  [29.2,19.2,2,9],[30.2,19.2,2,9],[31.6,19.2,2,9],[25.6,18.8,2,9],[26.6,18.4,2,9],[27.6,18.4,2,9],[28.6,18.4,2,9],[29.6,18.4,2,9],[30.7,18.5,2,9],[26.4,17.7,2,9],[27.4,17.6,2,9],[28.5,17.6,2,9],
  [29.5,17.6,2,9],[30.4,17.7,2,9],[27.4,16.9,2,10],[28.5,16.8,2,10],[29.5,16.8,2,10],[28.3,14.7,2,10],[28.5,13.8,2,10],[27.9,16,8,12],[28.6,15.5,8,12]
];
const branchSmall = [[49.3,27.3,2,8],[49.9,27.2,7,8],[48.9,27,2,8],[49.5,26.6,2,8],[49.4,25.8,3,10],[49.4,25,3,11]];
const branchTroph = [
  [80.8,41.7,6,6],[80.5,41,4,6],[81,40.3,4,6],[80.6,39.4,8,6],[81,38.6,4,6],[80.4,38,8,6],[81.2,37.6,8,6],[80,37,8,6],[80.8,37,8,6],[81.6,37,8,6],[79.5,36,8,6],[80.5,36,8,6],[81.4,36,8,6],[82.5,35.9,8,6],
  [79,35,8,6],[80,35,8,6],[81,35,8,6],[82,35,8,6],[82.8,35,8,6],[79.2,33.8,8,6],[80.3,33.8,8,6],[81.4,33.8,8,6],[82.4,33.8,8,6],[79.5,32.6,8,6],[80.6,32.6,8,13],[81.7,32.6,8,6],[82.6,32.6,8,13],
  [79.4,31.4,8,13],[80.5,31.4,8,13],[81.6,31.4,8,13],[82.3,31.4,8,13],[79,30.2,8,13],[80.2,30.2,8,13],[81.4,30.2,8,13],[82.6,30.2,8,13],[78.7,29,8,13],[79.9,29,8,13],[81.1,29,8,13],[82.5,29,8,13],
  [78.6,27.8,8,14],[79.7,27.8,8,13],[81,27.8,8,12],[82.4,27.8,8,14],[83,27.8,8,13],[78.7,26.6,8,14],[80,26.6,8,12],[81.2,26.6,8,12],[82.6,26.6,8,14],[79,25.4,8,12],[80.1,25.4,8,14],[81.5,25.4,8,14],[82.8,25.4,8,14],
  [78.8,24.2,8,13],[79.9,24.2,8,13],[81,24.2,8,14],[82.2,24.2,8,13],[83.3,24.2,8,13],[77.9,23.4,8,13],[79.3,23.4,8,13],[80.6,23.4,8,13],[82,23.4,8,13],[83.7,23.4,8,13],[79,22.3,8,14],[80.5,22.3,8,14],[81.8,22.3,8,14],[82.9,22.3,8,13],
  [78.9,21.2,8,14],[80.2,21.2,8,14],[81.5,21.2,8,14],[82.8,21.2,8,14],[78.8,20,8,14],[80,20,8,12],[81.2,20,8,12],[82.6,20,8,14],[79,18.8,8,12],[80.1,18.8,8,12],[81.4,18.8,8,12],[82.5,18.8,8,12],
  [78.9,17.6,8,12],[80.3,17.6,8,12],[81.6,17.6,8,12],[82.7,17.6,8,12],[78.3,16.4,8,12],[79.6,16.4,8,12],[80.9,16.4,8,12],[82.2,16.4,8,12],[83.1,16.4,8,12],[78,15.2,8,12],[79.2,15.2,8,12],[80.5,15.2,8,12],[81.9,15.2,8,12],[83.3,15.2,8,12],
  [77.6,14,8,12],[78.8,14,8,12],[80,14,8,12],[81.4,14,0,12],[82.8,14,8,12],[83.8,14,8,12],[76.9,13.4,8,12],[78.2,13.4,0,12],[79.6,13.4,8,12],[81,13.4,8,12],[82.4,13.4,8,12],[84.2,13.4,8,12],
  [79.8,34.4,8,6],[80.9,34.4,8,6],[82,34.4,8,6],[79.7,33.2,8,6],[81,33.2,8,6],[82.1,33.2,8,6],[80,32,8,13],[81.1,32,8,13],[82.2,32,8,13],[79.6,30.8,8,13],[80.9,30.8,8,13],[82,30.8,8,13],[79.3,29.6,8,13],[80.7,29.6,8,13],[82,29.6,8,13],
  [79.2,28.4,8,13],[80.4,28.4,8,13],[81.8,28.4,8,13],[79.2,27.2,8,14],[80.5,27.2,8,12],[81.9,27.2,8,14],[79.4,26,8,14],[80.7,26,8,12],[82,26,8,14],[79.5,24.8,8,13],[80.6,24.8,8,14],[82,24.8,8,14],
  [78.6,22.9,8,13],[80,22.9,8,13],[81.4,22.9,8,13],[82.6,22.9,8,13],[79.6,21.8,8,14],[81.2,21.8,8,14],[82.4,21.8,8,14],[79.5,20.6,8,14],[80.8,20.6,8,14],[82.2,20.6,8,14],[79.5,19.4,8,14],[80.7,19.4,8,12],[82,19.4,8,12],
  [79.6,18.2,8,12],[80.9,18.2,8,12],[82,18.2,8,12],[79.2,17,8,12],[80.6,17,8,12],[82.1,17,8,12],[78.7,15.8,8,12],[80,15.8,8,12],[81.3,15.8,8,12],[82.6,15.8,8,12],[78.2,14.6,8,12],[79.5,14.6,8,12],[80.8,14.6,8,12],[82.2,14.6,8,12],[83.2,14.6,8,12]
];
const branchLeftFoot = [
  [67.5,14,8,12],[68.6,14,8,12],[69.7,14,0,12],[70.8,14,8,12],[71.8,14,8,12],[67,13,8,12],[68.2,13,8,12],[69.4,13,0,12],[70.6,13,8,12],[71.8,13,0,12],[72.5,13,0,12],
  [66.6,12,0,12],[67.9,12,8,12],[69.1,12,0,15],[70.3,12,2,15],[71.5,12,0,15],[72.7,12,0,12],[73.8,12,0,12],[66.4,11,7,15],[67.7,11,0,15],[69,11,0,15],[70.3,11,8,15],[71.6,11,0,15],[72.9,11,0,15],[74,11,0,15],
  [66.5,10,7,15],[67.7,10,0,15],[69,10,8,15],[70.3,10,0,15],[71.6,10,8,15],[72.9,10,0,15],[74.3,10,0,15],[66,9.2,0,15],[67.3,9.2,0,15],[68.6,9.2,0,15],[70,9.2,0,15],[71.3,9.2,0,15],[72.6,9.2,0,15],[74.2,9.2,0,15],[74.8,9.2,0,15],
  [67,8.2,0,15],[68.4,8.2,0,15],[69.8,8.2,0,15],[71.2,8.2,0,15],[72.5,8.2,0,15],[73.4,8.2,0,15],[68,7,0,15],[69.4,7,0,15],[70.8,7,8,15],[72.2,7,0,15],[68.8,6,0,15],[70,6,8,15],[71.2,6,0,15],[72,6,0,15],[69.4,5,0,15],[70.3,5,0,15],[71.1,5,0,15],[69.8,4,0,15],[70.6,4,0,15],[70.3,3.4,0,15],
  [68,13.5,8,12],[69,13.5,8,12],[70.2,13.5,0,12],[71.2,13.5,8,12],[67.2,11.5,8,12],[68.4,11.5,0,15],[69.6,11.5,0,15],[70.9,11.5,0,15],[72.2,11.5,0,15],[73.4,11.5,0,15],[67,10.5,0,15],[68.3,10.5,0,15],[69.6,10.5,8,15],[71,10.5,0,15],[72.3,10.5,0,15],[73.6,10.5,0,15],
  [66.7,9.6,0,15],[68,9.6,0,15],[69.3,9.6,0,15],[70.6,9.6,0,15],[72,9.6,0,15],[73.3,9.6,0,15],[74.5,9.6,0,15],[67.5,8.7,0,15],[69,8.7,0,15],[70.5,8.7,0,15],[71.9,8.7,0,15],[73,8.7,0,15],[68.5,7.6,0,15],[69.9,7.6,0,15],[71.5,7.6,0,15],[72.7,7.6,0,15],[69.2,6.5,0,15],[70.4,6.5,0,15],[71.6,6.5,0,15],[69.9,5.5,0,15],[70.7,5.5,0,15]
];
const branchRightFoot = [
  [91.3,13.6,7,12],[90.8,12.5,0,12],[91.8,12.5,7,12],[90.5,11.4,0,12],[91.6,11.4,7,12],[92.5,11.4,8,12],[89.8,10.3,7,12],[90.9,10.3,0,12],[92,10.3,0,12],[93.1,10.3,8,12],[89.5,9.2,0,16],[90.8,9.2,0,16],[92,9.2,0,16],[93.2,9.2,8,16],
  [88.5,8.4,7,16],[89.6,8.4,0,16],[90.8,8.4,7,16],[92,8.4,7,16],[93.2,8.4,7,16],[94.2,8.4,7,16],[87.6,7.6,7,16],[88.8,7.6,7,16],[90,7.6,7,16],[91.2,7.6,7,16],[92.4,7.6,7,16],[93.6,7.6,7,16],[94.8,7.6,7,16],
  [87,6.8,7,16],[88.2,6.8,7,16],[89.4,6.8,7,16],[90.6,6.8,7,16],[91.8,6.8,7,16],[93,6.8,7,16],[94.2,6.8,7,16],[95.4,6.8,7,16],[86.8,6,7,16],[88,6,7,16],[89.2,6,7,16],[90.4,6,7,16],[91.6,6,7,16],[92.8,6,7,16],[94,6,7,16],[95.2,6,7,16],[96,6,7,16],
  [87.2,5.2,7,16],[88.4,5.2,7,16],[89.6,5.2,7,16],[90.8,5.2,7,16],[92,5.2,7,16],[93.2,5.2,7,16],[94.4,5.2,7,16],[95.6,5.2,7,16],[88.8,4.4,7,16],[90,4.4,7,16],[91.2,4.4,7,16],[92.4,4.4,7,16],[93.6,4.4,7,16],[94.8,4.4,7,16],[90.2,4,7,16],[91.3,4,7,16],[92.4,4,7,16],
  [87.5,7.2,7,16],[88.8,7.2,7,16],[90,7.2,7,16],[91.2,7.2,7,16],[92.4,7.2,7,16],[93.6,7.2,7,16],[94.8,7.2,7,16],[87.5,6.4,7,16],[88.6,6.4,7,16],[89.8,6.4,7,16],[91,6.4,7,16],[92.2,6.4,7,16],[93.4,6.4,7,16],[94.6,6.4,7,16],[95.8,6.4,7,16],
  [87.8,5.6,7,16],[89,5.6,7,16],[90.2,5.6,7,16],[91.4,5.6,7,16],[92.6,5.6,7,16],[93.8,5.6,7,16],[95,5.6,7,16],[88.2,4.8,7,16],[89.5,4.8,7,16],[90.7,4.8,7,16],[91.9,4.8,7,16],[93.1,4.8,7,16],[94.3,4.8,7,16],[89,8.8,0,16],[90.2,8.8,0,16],[91.4,8.8,0,16],[92.6,8.8,8,16],[93.7,8.8,7,16],[90,9.8,0,12],[91.2,9.8,0,12],[92.4,9.8,0,12]
];

// cluster names on the dendrogram: [name, dendro1 of the text centre, dendro2 of the baseline]
const dendroNames = [
  ['8C_3.0',18.1,90.7],['Prelineage',18,89.9],['Morula_4.0',17.8,76.7],['Inner Cell Mass',40,28],['Epiblast_6.0',37.6,25.2],
  ['Late epiblast',29.5,21.2],['Epiblast_7.0',28.8,17.9],['Primitive Endoderm',53.2,15.4],['Trophectoderm_5.0',59.95,35.7],['Trophectoderm_6.0',80.1,20.9],
  ['Trophectoderm_7.0',80.9,11.7],['Trophectoderm_8.0',90.1,9.2],['Trophectoderm_9.0',90.1,8.2],['Trophectoderm_10.0',89.5,6.9]
];
const colorbarTicks = [0, .2, .4, .6, .8, 1];

const allCells = [].concat(
  seg1Cells.map(c => [...c, 0]), seg2Cells.map(c => [...c, 1]), seg3Cells.map(c => [...c, 2]),
  seg4Cells.map(c => [...c, 3]), seg5Cells.map(c => [...c, 4]), seg6Cells.map(c => [...c, 5]),
  seg7Cells.map(c => [...c, 6]), seg8Cells.map(c => [...c, 7]), seg9Cells.map(c => [...c, 8])
);
const allBranches = [].concat(branchMorula, branchTop, branchMid, branchInner, branchEpi, branchSmall, branchTroph, branchLeftFoot, branchRightFoot);

const svg = d3.select('#fig');
const fontSize = 39.6;
const dotR = 6.3;
const row1 = [74, 871];
const row2 = [1012.5, 1810];

function panel(x0, x1, rows, domainMax) {
  const g = svg.append('g');
  return {
    g,
    x: d3.scaleLinear().domain([0, domainMax]).range([x0, x1]),
    y: d3.scaleLinear().domain([0, domainMax]).range([rows[1], rows[0]]),
    x0, x1, y0: rows[0], y1: rows[1]
  };
}

function frame(p, title, xlab, ylab, ylabX) {
  p.g.append('rect').attr('x', p.x0).attr('y', p.y0).attr('width', p.x1 - p.x0).attr('height', p.y1 - p.y0)
    .attr('fill', 'none').attr('stroke', '#000').attr('stroke-width', 2.8);
  const cx = (p.x0 + p.x1) / 2;
  const cy = (p.y0 + p.y1) / 2;
  if (title) {
    p.g.append('text').attr('x', cx).attr('y', p.y0 - 20).attr('text-anchor', 'middle').attr('font-size', fontSize).text(title);
  }
  if (xlab) {
    p.g.append('text').attr('x', cx).attr('y', p.y1 + 42).attr('text-anchor', 'middle').attr('font-size', fontSize).text(xlab);
  }
  if (ylab) {
    p.g.append('text').attr('transform', `translate(${ylabX},${cy}) rotate(-90)`).attr('text-anchor', 'middle').attr('font-size', fontSize).text(ylab);
  }
}

function scatter(p, data, xi, yi, colorOf) {
  p.g.selectAll(null).data(data).enter().append('circle')
    .attr('cx', d => p.x(d[xi])).attr('cy', d => p.y(d[yi])).attr('r', dotR)
    .attr('fill', colorOf);
}

function legend(dotX, textX) {
  const yLeg = d3.scalePoint().domain(segLabels).range([1190, 1633]);
  segLabels.forEach((s, i) => {
    svg.append('circle').attr('cx', dotX).attr('cy', yLeg(s)).attr('r', 11.7).attr('fill', segColors[i]);
    svg.append('text').attr('x', textX).attr('y', yLeg(s) + 11).attr('font-size', fontSize).text(s);
  });
}

function dendroLines(p) {
  p.g.selectAll(null).data(dendroLinks).enter().append('line')
    .attr('x1', d => p.x(d[0])).attr('y1', d => p.y(d[1])).attr('x2', d => p.x(d[2])).attr('y2', d => p.y(d[3]))
    .attr('stroke', '#000').attr('stroke-opacity', .31).attr('stroke-width', 10);
}

// top left: annotation on the embedding
const pA = panel(74.5, 1122.5, row1, 100);
scatter(pA, allCells, 0, 1, d => annotColors[d[3]]);
frame(pA, 'C_scANVI_nsamples', 'X_FA1', 'X_FA2', 55);

// top middle: abstracted graph
const pB = panel(1350, 2398, row1, 100);
const rNode = d3.scaleSqrt().domain([0, 261]).range([0, 28]);
const wEdge = d3.scaleLinear().domain([0, 1]).range([0, 8.5]);
pB.g.selectAll(null).data(graphEdges).enter().append('line')
  .attr('x1', d => pB.x(graphNodes[d[0]][0])).attr('y1', d => pB.y(graphNodes[d[0]][1]))
  .attr('x2', d => pB.x(graphNodes[d[1]][0])).attr('y2', d => pB.y(graphNodes[d[1]][1]))
  .attr('stroke', '#000').attr('stroke-width', d => wEdge(d[2]));
graphArcs.forEach(d => {
  const a = graphNodes[d[0]], b = graphNodes[d[1]];
  const ax = pB.x(a[0]), ay = pB.y(a[1]), bx = pB.x(b[0]), by = pB.y(b[1]);
  const path = d3.path();
  path.moveTo(ax, ay);
  path.quadraticCurveTo((ax + bx) / 2 - (by - ay) * d[3], (ay + by) / 2 + (bx - ax) * d[3], bx, by);
  pB.g.append('path').attr('d', path.toString()).attr('fill', 'none').attr('stroke', '#888').attr('stroke-width', wEdge(d[2]));
});
pB.g.selectAll(null).data(graphNodes).enter().append('circle')
  .attr('cx', d => pB.x(d[0])).attr('cy', d => pB.y(d[1])).attr('r', d => rNode(d[2]))
  .attr('fill', (d, i) => annotColors[i]);
frame(pB);

// top right: pseudotime with colour bar
const pC = panel(2627, 3581, row1, 100);
scatter(pC, allCells.slice().sort((a, b) => b[2] - a[2]), 0, 1, d => d3.interpolateViridis(d[2]));
frame(pC, 't_scaled', 'X_FA1', 'X_FA2', 2608);
const yBar = d3.scaleLinear().domain([0, 1]).range([871, 74]);
const barG = svg.append('g');
d3.range(0, 1, 1 / 256).forEach(v => {
  barG.append('rect').attr('x', 3590).attr('y', yBar(v + 1 / 256)).attr('width', 27).attr('height', yBar(v) - yBar(v + 1 / 256) + .6)
    .attr('fill', d3.interpolateViridis(v));
});
barG.append('rect').attr('x', 3590).attr('y', 74).attr('width', 27).attr('height', 797).attr('fill', 'none').attr('stroke', '#000').attr('stroke-width', 2.8);
const barAxis = svg.append('g').attr('transform', 'translate(3617,0)')
  .call(d3.axisRight(yBar).tickValues(colorbarTicks).tickSize(12).tickPadding(10).tickFormat(d3.format('.1f')));
barAxis.select('.domain').remove();
barAxis.selectAll('line').attr('stroke', '#000').attr('stroke-width', 2.8);
barAxis.selectAll('text').attr('font-size', fontSize).attr('font-family', '"DejaVu Sans", sans-serif').attr('dy', '.37em');

// bottom left: dendrogram by seg
const pD = panel(74.5, 1122.5, row2, 100);
scatter(pD, allBranches, 0, 1, d => segColors[d[2]]);
dendroLines(pD);
frame(pD, 'seg', 'dendro1', 'dendro2', 56);
legend(1164.6, 1187);

// bottom middle: dendrogram by annotation, with cluster names on top
const pE = panel(1350, 2398, row2, 100);
scatter(pE, allBranches, 0, 1, d => dendroTints[d[3]]);
dendroLines(pE);
frame(pE, 'C_scANVI_nsamples', 'dendro1', 'dendro2', 1331);
pE.g.selectAll(null).data(dendroNames).enter().append('text')
  .attr('x', d => pE.x(d[1])).attr('y', d => pE.y(d[2]))
  .attr('text-anchor', 'middle').attr('font-size', fontSize).attr('font-weight', 'bold')
  .attr('stroke', '#fff').attr('stroke-width', 5).attr('paint-order', 'stroke').text(d => d[0]);

// bottom right: seg on the embedding
const pF = panel(2627, 3675, row2, 100);
scatter(pF, allCells, 0, 1, d => segColors[d[4]]);
frame(pF, 'seg', 'X_FA1', 'X_FA2', 2608);
legend(3717, 3739);
</script>
</body>
</html>
